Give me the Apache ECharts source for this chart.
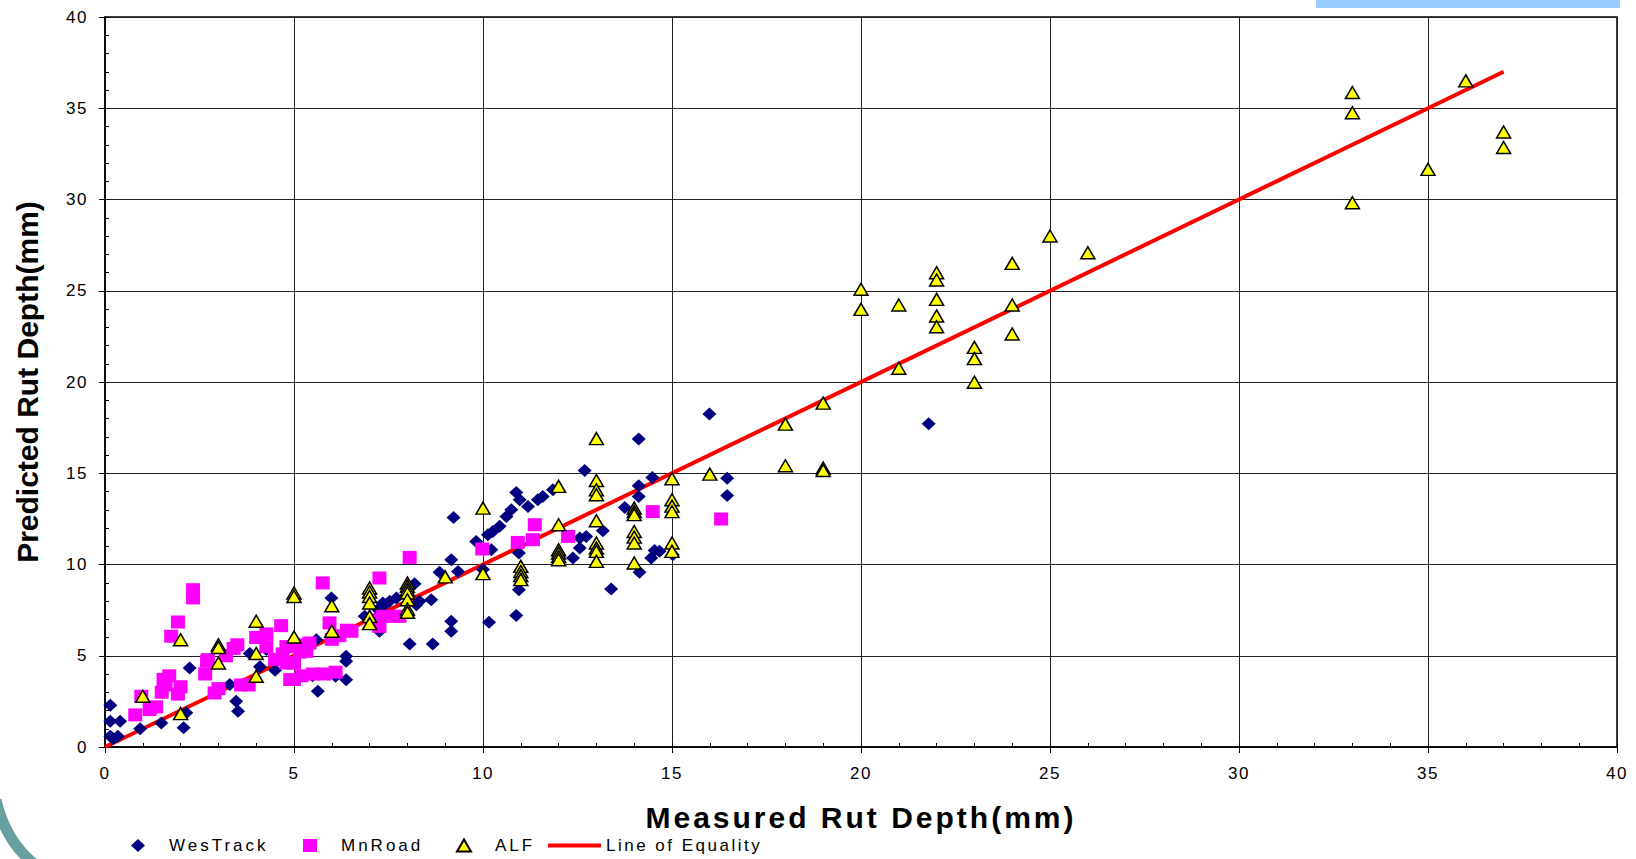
<!DOCTYPE html>
<html>
<head>
<meta charset="utf-8">
<script src="https://cdn.jsdelivr.net/npm/echarts@6/dist/echarts.min.js"></script>
<style>
html,body{margin:0;padding:0;background:#fff;}
#c{width:1636px;height:859px;}
</style>
</head>
<body>
<div id="c"></div>
<script>
// ---------- data ----------
const axisTicks = [0, 5, 10, 15, 20, 25, 30, 35, 40];

const westrack = [
  [0.14,2.29],[0.14,1.41],[0.40,1.41],[0.14,0.59],[0.34,0.59],[0.22,0.45],[0.93,1.0],[1.49,1.32],
  [2.08,1.05],[2.15,1.87],[2.24,4.33],[3.3,3.42],[3.47,2.51],[3.52,1.96],[3.83,5.12],[4.27,5.34],
  [4.1,4.4],[4.5,4.2],[5.49,3.9],[5.59,5.88],[5.63,3.05],[5.99,8.17],[6.38,4.97],[6.38,4.7],[6.38,3.69],
  [6.1,3.88],[6.87,7.16],[7.26,6.34],[7.35,7.89],[7.22,7.53],[7.4,7.8],[7.53,7.98],[7.71,8.17],
  [8.19,8.95],[8.24,7.8],[8.32,7.98],[8.63,8.07],[8.06,5.65],[8.67,5.65],[8.85,9.57],[9.16,10.26],
  [9.22,12.58],[9.34,9.62],[9.16,6.89],[9.16,6.34],[9.82,11.26],[10.0,9.72],[10.13,11.63],[10.26,11.81],
  [10.44,12.09],[10.62,12.63],[10.75,13.0],[10.22,10.81],[10.88,13.95],[10.97,13.55],[11.19,13.18],
  [11.45,13.55],[11.58,13.73],[11.85,14.09],[10.95,10.63],[10.95,8.62],[10.88,7.2],[10.16,6.83],
  [12.56,11.45],[12.73,11.54],[12.56,10.9],[12.38,10.36],[12.69,15.15],[13.17,11.85],[13.39,8.66],
  [13.75,13.13],[14.12,16.87],[14.12,14.31],[14.12,13.73],[14.48,14.77],[14.14,9.57],[14.45,10.36],
  [14.54,10.77],[14.67,10.72],[15.02,10.54],[15.99,18.24],[16.46,14.73],[16.46,13.78],[21.79,17.71]
];

const mnroad = [
  [0.80,1.76],[0.96,2.78],[1.18,2.05],[1.35,2.2],[1.5,3.0],[1.55,3.7],[1.6,3.4],[1.7,3.9],[1.75,6.07],
  [1.93,6.85],[2.33,8.62],[2.33,8.17],[1.93,2.9],[2.0,3.3],[2.65,4.0],[2.7,4.7],[2.72,4.79],[2.9,2.96],
  [3.0,3.2],[3.2,5.0],[3.4,5.4],[3.5,5.6],[3.6,3.4],[3.8,3.4],[4.0,6.0],[4.1,6.0],[4.27,6.2],[4.27,5.5],
  [4.66,6.65],[4.5,4.8],[4.7,5.1],[4.8,5.5],[4.8,4.6],[5.0,4.6],[4.9,3.7],[5.0,3.7],[5.2,3.9],[5.5,4.0],
  [5.8,4.0],[6.1,4.1],[5.16,5.2],[5.16,5.6],[5.41,5.7],[5.33,5.24],[5.76,8.99],[5.94,6.8],[6.0,5.9],
  [6.2,6.1],[6.4,6.4],[6.52,6.34],[7.26,9.26],[7.18,6.98],[7.35,7.16],[7.62,7.16],[7.79,7.16],[7.26,6.61],
  [8.06,10.39],[9.98,10.85],[10.92,11.21],[11.37,12.18],[11.32,11.36],[12.25,11.54],[14.49,12.9],[16.3,12.49]
];

const alf = [
  [1,2.78],[2,5.88],[2,1.83],[3,5.6],[3,5.45],[3,4.6],[4,6.89],[4,5.12],[4,3.88],[5,8.44],[5,8.25],[5,6.03],
  [6,7.74],[6,6.34],[7,8.71],[7,8.49],[7,8.25],[7,7.89],[7,7.16],[7,6.76],[8,8.99],[8,8.8],[8,8.62],[8,8.44],
  [8,8.07],[8,7.56],[8,7.38],[9,9.32],[10,13.09],[10,9.5],[11,9.9],[11,9.62],[11,9.39],[11,9.17],
  [12,14.28],[12,12.18],[12,10.81],[12,10.63],[12,10.44],[12,10.26],[13,16.9],[13,14.6],[13,14.09],
  [13,13.82],[13,12.4],[13,11.18],[13,10.9],[13,10.72],[13,10.17],[14,13.09],[14,12.9],[14,12.73],
  [14,11.81],[14,11.5],[14,11.18],[14,10.08],[15,14.7],[15,13.55],[15,13.2],[15,12.9],[15,11.18],[15,10.72],
  [16,14.95],[18,17.69],[18,15.41],[19,18.84],[19,15.28],[19,15.15],[20,25.08],[20,23.98],[21,24.22],
  [21,20.75],[22,25.99],[22,25.59],[22,24.53],[22,23.62],[22,23.03],[23,21.9],[23,21.28],[23,19.99],
  [24,26.5],[24,24.22],[24,22.63],[25,28.0],[26,27.08],[33,35.86],[33,34.75],[33,29.82],[35,31.65],
  [36,36.5],[37,33.7],[37,32.85]
];

const equalityLine = [[0,0],[37,37]];

// ---------- chart ----------
const FONT = '"Liberation Sans", Arial, sans-serif';
const chart = echarts.init(document.getElementById('c'), null, {renderer: 'svg'});

function mainAxis(isX) {
  return {
    type: 'value', min: axisTicks[0], max: axisTicks[axisTicks.length - 1], interval: axisTicks[1] - axisTicks[0],
    position: isX ? 'bottom' : 'left',
    name: isX ? 'Measured Rut Depth(mm)' : 'Predicted Rut Depth(mm)',
    nameLocation: 'middle',
    nameGap: isX ? 55 : 63,
    nameMoveOverlap: false,
    nameTextStyle: {fontSize: 30, fontWeight: 'bold', color: '#000', fontFamily: FONT},
    axisLine: {show: true, onZero: false, lineStyle: {color: '#000', width: 1.5}},
    axisTick: {show: true, inside: false, length: 6, lineStyle: {color: '#000', width: 1}},
    axisLabel: {margin: isX ? 18 : 17, fontSize: 17, color: '#000', fontFamily: FONT},
    splitLine: {show: true, lineStyle: {color: '#222', width: 1}}
  };
}
function minorAxis(isX) {
  return {
    type: 'value', min: axisTicks[0], max: axisTicks[axisTicks.length - 1], interval: 1,
    position: isX ? 'bottom' : 'left',
    axisLine: {show: false},
    axisTick: {show: true, inside: true, length: 4, lineStyle: {color: '#000', width: 1}},
    axisLabel: {show: false},
    splitLine: {show: false}
  };
}

const legendText = {fontSize: 17, color: '#000', fontFamily: FONT};

const option = {
  animation: false,
  backgroundColor: '#fff',
  grid: {left: 105, right: 19, top: 17, bottom: 112, show: true, borderColor: '#000', borderWidth: 1.5,
         backgroundColor: 'transparent', containLabel: false, outerBoundsMode: 'none'},
  xAxis: [mainAxis(true), minorAxis(true)],
  yAxis: [mainAxis(false), minorAxis(false)],
  legend: [
    {data: ['WesTrack'], left: 131, top: 837, padding: 0, itemWidth: 14, itemHeight: 13, selectedMode: false,
     textStyle: Object.assign({padding: [0, 0, 0, 19]}, legendText)},
    {data: ['MnRoad'], left: 303, top: 837, padding: 0, itemWidth: 14, itemHeight: 13, selectedMode: false,
     textStyle: Object.assign({padding: [0, 0, 0, 19]}, legendText)},
    {data: ['ALF'], left: 456, top: 837, padding: 0, itemWidth: 14, itemHeight: 12, selectedMode: false,
     textStyle: Object.assign({padding: [0, 0, 0, 19]}, legendText)},
    {data: [{name: 'Line of Equality', icon: 'rect'}], left: 548, top: 837, padding: 0, itemWidth: 53, itemHeight: 4,
     selectedMode: false, itemStyle: {color: '#ff0000'}, textStyle: legendText}
  ],
  graphic: [
    {type: 'rect', silent: true, shape: {x: 1316, y: 0, width: 304, height: 8}, style: {fill: '#99CCFF'}},
    {type: 'bezierCurve', silent: true,
     shape: {x1: -4, y1: 800, cpx1: 5, cpy1: 840, x2: 34, y2: 864},
     style: {stroke: '#68A09F', lineWidth: 11, fill: null}}
  ],
  series: [
    {name: 'Line of Equality', type: 'line', data: equalityLine, symbol: 'none', showSymbol: false,
     color: '#ff0000', itemStyle: {color: '#ff0000'}, lineStyle: {color: '#ff0000', width: 4}, z: 2},
    {name: 'WesTrack', type: 'scatter', data: westrack, symbol: 'diamond', symbolSize: [14, 13],
     itemStyle: {color: '#000080', opacity: 1}, z: 2},
    {name: 'MnRoad', type: 'scatter', data: mnroad, symbol: 'rect', symbolSize: [14, 13],
     itemStyle: {color: '#ff00ff', opacity: 1}, z: 3},
    {name: 'ALF', type: 'scatter', data: alf, symbol: 'triangle', symbolSize: [14, 12],
     itemStyle: {color: '#ffff00', borderColor: '#000', borderWidth: 1.5, opacity: 1}, z: 4}
  ]
};
chart.setOption(option);

// letter spacing (source uses widely spaced text)
const spacing = {'Measured Rut Depth(mm)': '3px', 'WesTrack': '3px', 'MnRoad': '3px', 'ALF': '3px',
                 'Line of Equality': '2.5px'};
function applySpacing() {
  document.querySelectorAll('#c text').forEach(function (t) {
    const s = t.textContent;
    if (spacing[s]) t.style.letterSpacing = spacing[s];
    else if (/^\d+$/.test(s)) t.style.letterSpacing = '1.5px';
  });
}
applySpacing();
chart.on('finished', applySpacing);
new MutationObserver(applySpacing).observe(document.getElementById('c'), {childList: true, subtree: true});
setTimeout(applySpacing, 50);
</script>
</body>
</html>
